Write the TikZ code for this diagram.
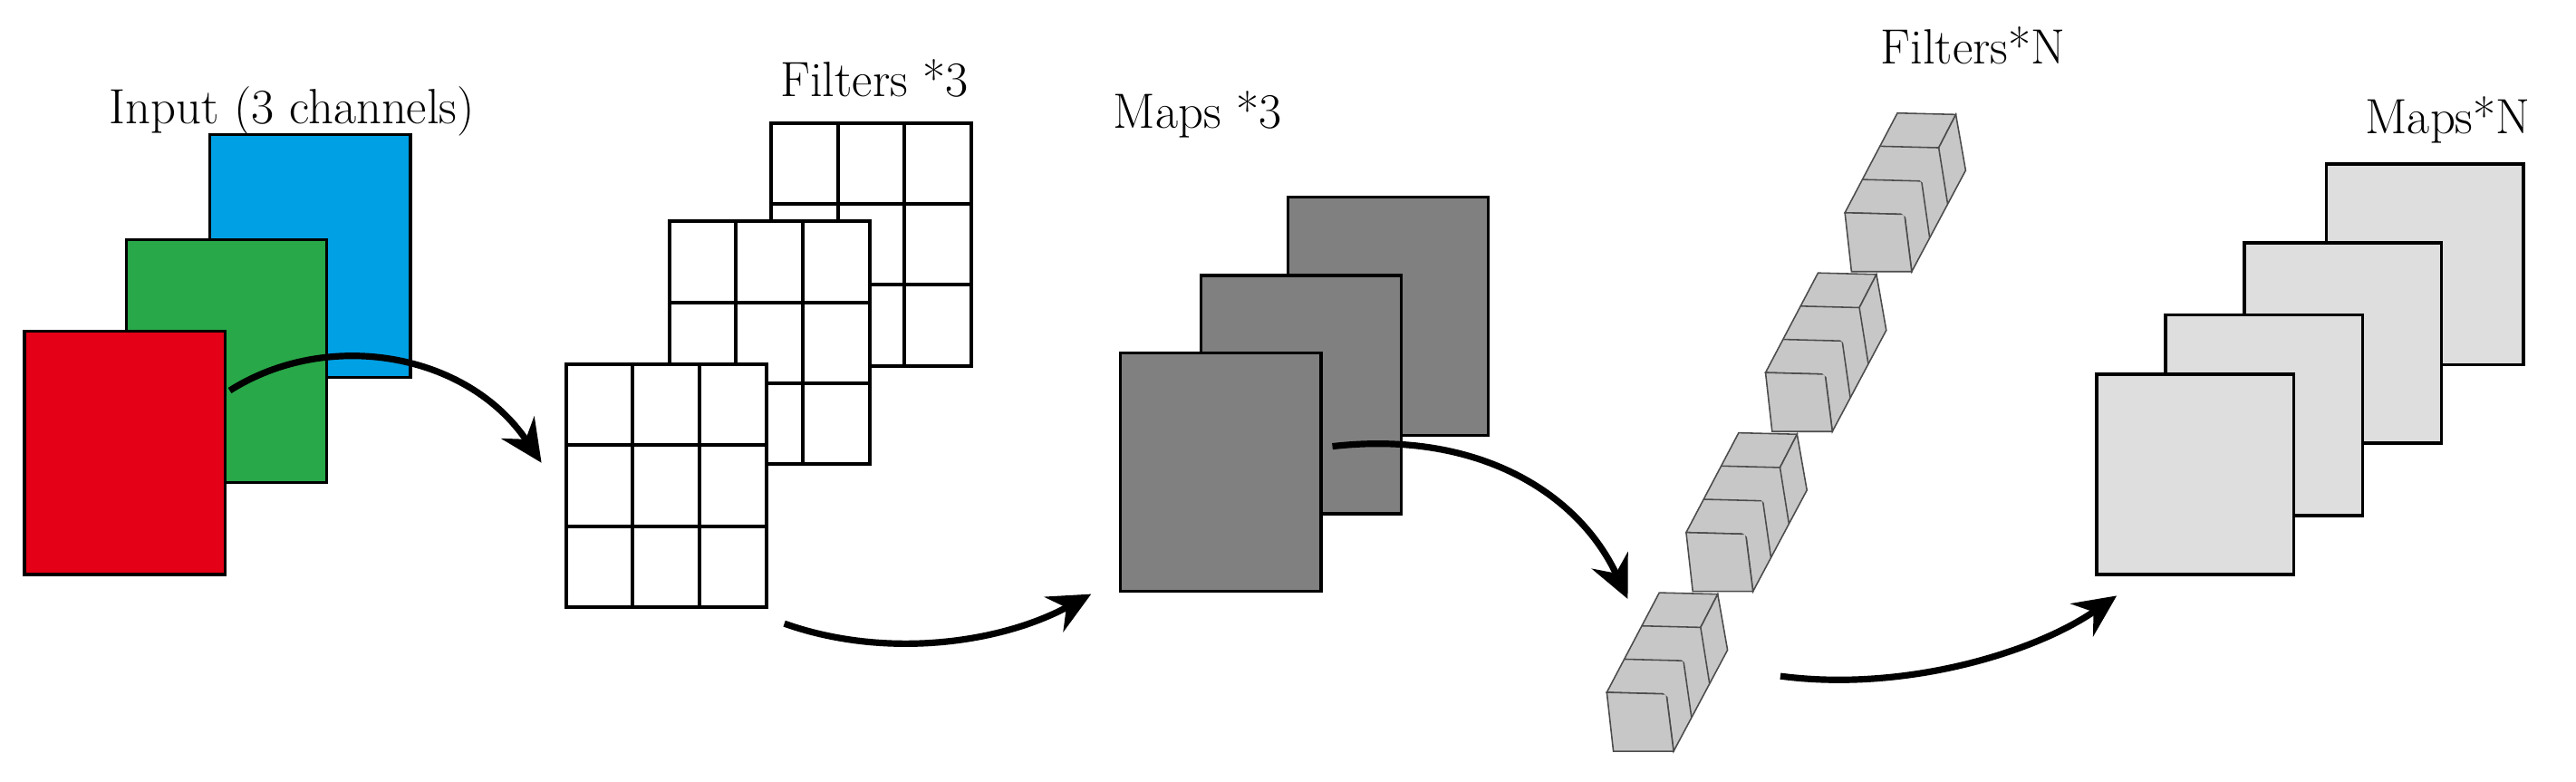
\documentclass[tikz,border=0pt]{standalone}
\usetikzlibrary{arrows.meta,calc}
\begin{document}
\begin{tikzpicture}[x=0.02cm,y=-0.02cm,
  lbl/.style={font=\fontsize{17.5}{20}\selectfont},
  sq/.style={draw=black,line width=1.1pt,minimum width=2.49cm,minimum height=3.02cm,anchor=north west,inner sep=0pt,outer sep=0pt},
  grid/.style={draw=black,line width=1.3pt,fill=white},
  cube/.style={draw=black!70,line width=0.5pt,fill=black!22},
  flow/.style={line width=2.3pt,-{Stealth[length=15pt,width=14pt,inset=5pt]}}]
\useasboundingbox (0,0) rectangle (1600,485.6);
\begin{scope}[scale=1.019]
% labels
\node[lbl] (tin) at (178,68) {Input (3 channels)};
\node[lbl] (tf3) at (533,48) {Filters *3};
\node[lbl] (tm3) at (730,70) {Maps *3};
\node[lbl] (tmn) at (1492,73) {Maps*N};
% input
\node[sq,fill={rgb,255:red,0;green,160;blue,228}] (blue) at (128,82) {};
\node[sq,fill={rgb,255:red,40;green,168;blue,72}] (green) at (77,146) {};
\node[sq,fill={rgb,255:red,228;green,0;blue,22}] (red) at (15,202) {};
% filters *3
\foreach \x/\y in {470/75,408/135,345/222}{
  \draw[grid] (\x,\y) rectangle ++(122,148);
  \foreach \i in {1,2}{
    \draw[line width=1.3pt] (\x+\i*40.67,\y) -- ++(0,148);
    \draw[line width=1.3pt] (\x,\y+\i*49.33) -- ++(122,0);}
}
% maps *3
\foreach \n/\x/\y in {m1/785/120,m2/732/168,m3/683/215}{
  \node[sq,fill=black!50,minimum height=2.96cm] (\n) at (\x,\y) {};}
% maps * N
\foreach \n/\x/\y in {n1/1418/100,n2/1368/148,n3/1320/192,n4/1278/228}{
  \node[sq,fill=black!13,minimum width=2.45cm,minimum height=2.49cm] (\n) at (\x,\y) {};}
% arrows
\coordinate (a1s) at (140,238); \coordinate (a1e) at (330,282);
\coordinate (a2s) at (478,380); \coordinate (a2e) at (665,362);
\coordinate (a3s) at (812,272); \coordinate (a3e) at (992,365);
\coordinate (a4s) at (1085,412); \coordinate (a4e) at (1290,363);
\draw[flow] (a1s) .. controls (200,200) and (285,215) .. (a1e);
\draw[flow] (a2s) .. controls (540,402) and (610,392) .. (a2e);
\draw[flow] (a3s) .. controls (900,262) and (962,300) .. (a3e);
\draw[flow] (a4s) .. controls (1160,422) and (1240,398) .. (a4e);
\end{scope}
% filters * N
\node[lbl,anchor=west] (tfn) at (1162,28) {Filters*N};
\foreach \k in {0,1,2,3}{
  \begin{scope}[shift={(998+49.3*\k,430-99.3*\k)}]
    \coordinate (F1) at (0,0); \coordinate (F2) at (37,1);
    \coordinate (F3) at (41.5,36.6); \coordinate (F4) at (4.1,36.6);
    \coordinate (B1) at (32.6,-61.9); \coordinate (B2) at (68.9,-61);
    \coordinate (B3) at (75,-26.3);
    \draw[cube] (F1) -- (F2) -- (B2) -- (B1) -- cycle;
    \draw[cube] (F2) -- (F3) -- (B3) -- (B2) -- cycle;
    \draw[cube] (F1) -- (F2) -- (F3) -- (F4) -- cycle;
    \foreach \t in {0.333,0.667}{
      \draw[cube] ($(F1)!\t!(B1)$) -- ($(F2)!\t!(B2)$) -- ($(F3)!\t!(B3)$);}
  \end{scope}}
\end{tikzpicture}
\end{document}
